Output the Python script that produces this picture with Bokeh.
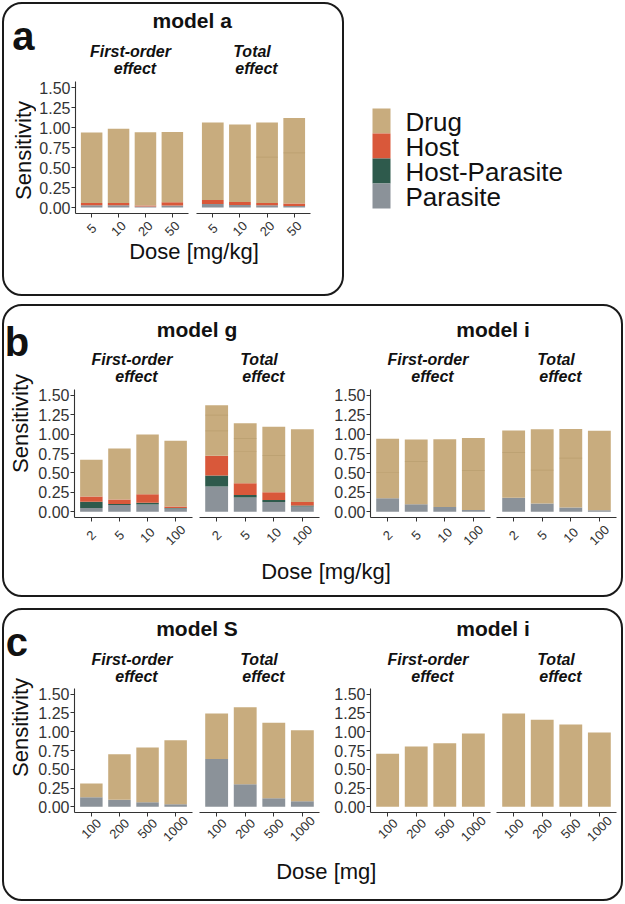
from math import pi
from bokeh.plotting import figure
from bokeh.layouts import row, column
from bokeh.models import (ColumnDataSource, Range1d, FixedTicker,
                          NumeralTickFormatter, LinearAxis, CustomJSTickFormatter, Spacer)
from bokeh.core.properties import value
from bokeh.embed import file_html
from bokeh.resources import INLINE

FONT = "Liberation Sans"
INK = "#111111"
AXIS = "#333333"
TICKTXT = "#333333"
MID = 0.3465          # (ascent - descent) / 2 of Liberation Sans, in em

# ---------------- data ----------------
components = ["Parasite", "Host-Parasite", "Host", "Drug"]          # stacked bottom -> top
component_colors = ["#8B9299", "#2E5A4C", "#D9583A", "#C8AC7E"]
legend_order = ["Drug", "Host", "Host-Parasite", "Parasite"]
legend_colors = ["#C8AC7E", "#D9583A", "#2E5A4C", "#8B9299"]
seam_color = "#A88F60"
y_ticks = [0.0, 0.25, 0.5, 0.75, 1.0, 1.25, 1.5]
facet_first = ["First-order", "effect"]
facet_total = ["Total", "effect"]

# panel a - model a (Dose [mg/kg])
doses_a = ["5", "10", "20", "50"]
a_first_parasite = [0.028, 0.028, 0.012, 0.024]
a_first_host_parasite = [0.0, 0.0, 0.0, 0.0]
a_first_host = [0.029, 0.029, 0.012, 0.041]
a_first_drug = [0.879, 0.928, 0.916, 0.879]
a_first_seams = [[], [], [], []]
a_total_parasite = [0.045, 0.032, 0.028, 0.020]
a_total_host_parasite = [0.0, 0.0, 0.0, 0.0]
a_total_host = [0.048, 0.037, 0.029, 0.029]
a_total_drug = [0.969, 0.969, 1.005, 1.070]
a_total_seams = [[], [], [0.624], [0.677]]

# panel b - model g (Dose [mg/kg])
doses_g = ["2", "5", "10", "100"]
g_first_parasite = [0.046, 0.087, 0.091, 0.041]
g_first_host_parasite = [0.083, 0.013, 0.025, 0.005]
g_first_host = [0.066, 0.058, 0.108, 0.020]
g_first_drug = [0.473, 0.655, 0.772, 0.847]
g_first_seams = [[], [], [], []]
g_total_parasite = [0.324, 0.183, 0.124, 0.066]
g_total_host_parasite = [0.141, 0.033, 0.025, 0.013]
g_total_host = [0.257, 0.149, 0.100, 0.045]
g_total_drug = [0.651, 0.776, 0.846, 0.938]
g_total_seams = [[1.037, 1.24], [0.768, 0.94], [0.718], []]

# panel b - model i (Dose [mg/kg])
doses_ib = ["2", "5", "10", "100"]
ib_first_parasite = [0.172, 0.097, 0.059, 0.021]
ib_first_host_parasite = [0.0, 0.0, 0.0, 0.0]
ib_first_host = [0.0, 0.0, 0.0, 0.0]
ib_first_drug = [0.769, 0.832, 0.874, 0.929]
ib_first_seams = [[0.504], [0.643], [], [0.529]]
ib_total_parasite = [0.181, 0.105, 0.055, 0.017]
ib_total_host_parasite = [0.0, 0.0, 0.0, 0.0]
ib_total_host = [0.0, 0.0, 0.0, 0.0]
ib_total_drug = [0.865, 0.958, 1.012, 1.025]
ib_total_seams = [[0.756], [0.53], [0.685], []]

# panel c - model S (Dose [mg])
doses_c = ["100", "200", "500", "1000"]
s_first_parasite = [0.127, 0.096, 0.061, 0.035]
s_first_host_parasite = [0.0, 0.0, 0.0, 0.0]
s_first_host = [0.0, 0.0, 0.0, 0.0]
s_first_drug = [0.183, 0.604, 0.730, 0.853]
s_total_parasite = [0.638, 0.302, 0.114, 0.074]
s_total_host_parasite = [0.0, 0.0, 0.0, 0.0]
s_total_host = [0.0, 0.0, 0.0, 0.0]
s_total_drug = [0.604, 1.023, 1.005, 0.945]

# panel c - model i (Dose [mg])
ic_first_parasite = [0.0, 0.0, 0.0, 0.0]
ic_first_host_parasite = [0.0, 0.0, 0.0, 0.0]
ic_first_host = [0.0, 0.0, 0.0, 0.0]
ic_first_drug = [0.708, 0.804, 0.848, 0.975]
ic_total_parasite = [0.0, 0.0, 0.0, 0.0]
ic_total_host_parasite = [0.0, 0.0, 0.0, 0.0]
ic_total_host = [0.0, 0.0, 0.0, 0.0]
ic_total_drug = [1.242, 1.159, 1.097, 0.988]
no_seams = [[], [], [], []]

BOX = {"border": "2px solid #1a1a1a", "border-radius": "20px",
       "box-sizing": "content-box"}
XLAB_PX = 13           # x tick label font size
NBSP = "\u00a0"


def canvas(w, h, **kw):
    p = figure(width=w, height=h, x_range=Range1d(0, w), y_range=Range1d(h, 0),
               output_backend="svg", toolbar_location=None,
               x_axis_location=None, y_axis_location=None,
               min_border=0, outline_line_color=None,
               background_fill_color=None, border_fill_color=None, **kw)
    p.grid.visible = False
    return p


def put_text(p, x, y_base, txt, size_px, style="normal", align="center", color=INK):
    """Place a text by its alphabetic baseline (drawn with a middle anchor)."""
    p.text(x=[x], y=[y_base - MID * size_px], text=[txt], text_font=value(FONT),
           text_font_size=value("%gpx" % size_px), text_font_style=value(style),
           text_align=value(align), text_baseline=value("middle"),
           text_color=color)


def facet(doses, parasite, host_parasite, host, drug, seams,
          w, h, bl, br, bt, bb, frame_w, lab_standoff, show_y):
    pos = [i + 0.5 for i in range(len(doses))]        # category slots
    lo, hi = -0.1, len(doses) + 0.1                    # +-0.6 slot expansion
    src = ColumnDataSource(data={"pos": pos, "dose": doses, "Parasite": parasite,
                                 "Host-Parasite": host_parasite,
                                 "Host": host, "Drug": drug})
    p = figure(width=w, height=h,
               x_range=Range1d(lo, hi),
               y_range=Range1d(-0.075, 1.575),
               output_backend="svg", toolbar_location=None,
               y_axis_location="left" if show_y else None,
               min_border_left=bl, min_border_right=br,
               min_border_top=bt, min_border_bottom=bb,
               outline_line_color=None,
               background_fill_color=None, border_fill_color=None)
    p.grid.visible = False
    p.vbar_stack(components, x="pos", width=0.8, fill_color=component_colors,
                 line_color=None, source=src)
    sx, sb, st = [], [], []
    for xp, ss in zip(pos, seams):
        for s in ss:
            sx.append(xp)
            sb.append(s)
            st.append(s + 0.009)
    if sx:
        p.vbar(x=sx, bottom=sb, top=st, width=0.8, fill_color=seam_color,
               fill_alpha=0.45, line_color=None)

    # first x axis: line + ticks only
    ax = p.xaxis[0]
    ax.ticker = FixedTicker(ticks=pos)
    ax.formatter = CustomJSTickFormatter(code="return '';")
    ax.major_label_text_font_size = "0px"
    ax.major_label_standoff = 0
    ax.major_tick_out = 4
    ax.major_tick_in = 0
    ax.major_tick_line_color = AXIS
    ax.axis_line_color = AXIS
    ax.axis_line_width = 1.1
    ax.minor_tick_line_color = None

    # second x axis: rotated dose labels, centred on each tick
    k = max(len(d) for d in doses)
    sp = 0.278 * XLAB_PX
    shift_px = 0.7071 * k * sp
    shift = shift_px / (frame_w / (hi - lo))
    p.extra_x_ranges = {"lab": Range1d(lo - shift, hi - shift)}
    padded = [d + NBSP * (k - len(d)) for d in doses]
    lab = LinearAxis(x_range_name="lab",
                     ticker=FixedTicker(ticks=pos),
                     formatter=CustomJSTickFormatter(args={"labels": padded},
                                                     code="return labels[index];"),
                     axis_line_color=None, major_tick_line_color=None,
                     minor_tick_line_color=None, major_tick_out=0, major_tick_in=0,
                     major_label_orientation=pi / 4,
                     major_label_standoff=lab_standoff,
                     major_label_text_font=FONT,
                     major_label_text_font_size="%dpx" % XLAB_PX,
                     major_label_text_color=TICKTXT)
    p.add_layout(lab, "below")

    if show_y:
        ay = p.yaxis[0]
        ay.ticker = FixedTicker(ticks=y_ticks)
        ay.formatter = NumeralTickFormatter(format="0.00")
        ay.major_label_text_font = FONT
        ay.major_label_text_font_size = "16px"
        ay.major_label_text_color = TICKTXT
        ay.major_label_standoff = 1
        ay.major_tick_out = 4
        ay.major_tick_in = 0
        ay.major_tick_line_color = AXIS
        ay.axis_line_color = AXIS
        ay.axis_line_width = 1.1
        ay.minor_tick_line_color = None
    return p


def left_strip(w, h, letter, lx, ly, sx, sy):
    p = canvas(w, h)
    put_text(p, lx, ly, letter, 40, style="bold", align="left")
    p.text(x=[sx], y=[sy], text=["Sensitivity"], text_font=value(FONT),
           text_font_size=value("22px"), text_align=value("center"),
           text_baseline=value("middle"), angle=pi / 2, text_color=INK)
    return p


def header(w, h, items):
    p = canvas(w, h)
    for (txt, x, y, size, style) in items:
        put_text(p, x, y, txt, size, style=style)
    return p


def footer(w, h, txt, x, y, **kw):
    p = canvas(w, h, **kw)
    put_text(p, x, y, txt, 22)
    return p


def facet_title_items(cx_first, cx_total, y1, y2):
    items = []
    for cx, lines in ((cx_first, facet_first), (cx_total, facet_total)):
        items.append((lines[0], cx, y1, 16, "bold italic"))
        items.append((lines[1], cx + 4.5, y2, 16, "bold italic"))
    return items


# ---------------- panel a ----------------
a1 = facet(doses_a, a_first_parasite, a_first_host_parasite, a_first_host, a_first_drug,
           a_first_seams, 156, 169, 38, 4, 3, 31, 114, 6, True)
a2 = facet(doses_a, a_total_parasite, a_total_host_parasite, a_total_host, a_total_drug,
           a_total_seams, 150, 169, 4, 32, 3, 31, 114, 6, False)
ha = header(306, 74, [("model a", 155.7, 23.3, 21, "bold")] +
            facet_title_items(94, 215.5, 52.7, 69.3))
fa = footer(306, 56, "Dose [mg/kg]", 157.5, 20.8, margin=(-9, 0, 0, 0))
box_a = row(left_strip(32, 290, "a", 7.8, 45.5, 18.8, 146),
            column(ha, row(a1, a2), fa), styles=BOX)

# legend
lg = canvas(279, 294)
for i, (name, col) in enumerate(zip(legend_order, legend_colors)):
    lg.rect(x=[37], y=[118.5 + 25 * i], width=18, height=25, fill_color=col, line_color=None)
    put_text(lg, 61, 128.7 + 25 * i, name, 26, align="left")

# ---------------- panel b ----------------
FH_B = 170
g1 = facet(doses_g, g_first_parasite, g_first_host_parasite, g_first_host, g_first_drug,
           g_first_seams, 160, FH_B, 37, 3, 3, 37, 120, 6, True)
g2 = facet(doses_g, g_total_parasite, g_total_host_parasite, g_total_host, g_total_drug,
           g_total_seams, 127, FH_B, 4, 3, 3, 37, 120, 6, False)
i1 = facet(doses_ib, ib_first_parasite, ib_first_host_parasite, ib_first_host, ib_first_drug,
           ib_first_seams, 171, FH_B, 48, 3, 3, 37, 120, 6, True)
i2 = facet(doses_ib, ib_total_parasite, ib_total_host_parasite, ib_total_host, ib_total_drug,
           ib_total_seams, 128, FH_B, 3, 5, 3, 37, 120, 6, False)
hb = header(586, 80, [("model g", 161.5, 30, 21, "bold"),
                      ("model i", 457.5, 30, 21, "bold")] +
            facet_title_items(96.5, 223.5, 58.5, 75.7) +
            facet_title_items(392.5, 520.5, 58.5, 75.7))
fb = footer(586, 39, "Dose [mg/kg]", 290.5, 22.3)
box_b = row(left_strip(31, 289, "b", 0.2, 49, 16, 117),
            column(hb, row(g1, g2, i1, i2), fb), styles=BOX)

# ---------------- panel c ----------------
FH_C = 167
s1 = facet(doses_c, s_first_parasite, s_first_host_parasite, s_first_host, s_first_drug,
           no_seams, 160, FH_C, 37, 3, 3, 38, 120, 2, True)
s2 = facet(doses_c, s_total_parasite, s_total_host_parasite, s_total_host, s_total_drug,
           no_seams, 127, FH_C, 4, 3, 3, 38, 120, 2, False)
j1 = facet(doses_c, ic_first_parasite, ic_first_host_parasite, ic_first_host, ic_first_drug,
           no_seams, 171, FH_C, 48, 3, 3, 38, 120, 2, True)
j2 = facet(doses_c, ic_total_parasite, ic_total_host_parasite, ic_total_host, ic_total_drug,
           no_seams, 128, FH_C, 3, 5, 3, 38, 120, 2, False)
hc = header(586, 75, [("model S", 161.5, 25, 21, "bold"),
                      ("model i", 457.5, 25, 21, "bold")] +
            facet_title_items(96.5, 223.5, 55, 71.2) +
            facet_title_items(392.5, 520.5, 55, 71.2))
fc = footer(586, 47, "Dose [mg]", 290.8, 26.3)
box_c = row(left_strip(31, 289, "c", 1.2, 45, 16, 117),
            column(hc, row(s1, s2, j1, j2), fc), styles=BOX)

page = column(Spacer(height=2),
              row(Spacer(width=2), box_a, lg),
              Spacer(height=8),
              row(Spacer(width=2), box_b),
              Spacer(height=11),
              row(Spacer(width=2), box_c))

open("out.html", "w").write(file_html(page, INLINE))
